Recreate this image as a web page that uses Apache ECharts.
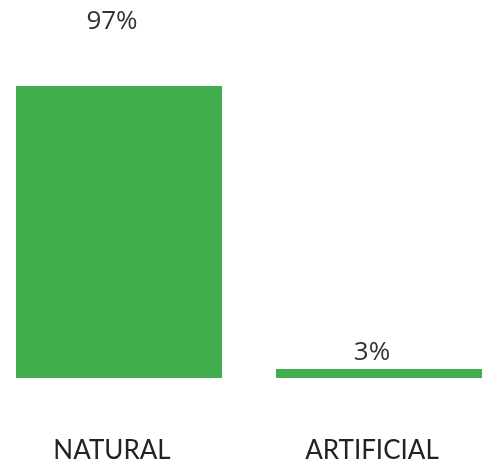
<!DOCTYPE html>
<html>
<head>
<meta charset="utf-8">
<script src="https://cdn.jsdelivr.net/npm/echarts@6/dist/echarts.min.js"></script>
<style>
  html, body { margin: 0; padding: 0; background: #fff; }
  #chart { width: 484px; height: 462px; }
</style>
</head>
<body>
<div id="chart"></div>
<script>
// data
const categories = ['NATURAL', 'ARTIFICIAL'];
const shares = [97, 3];
// how far each value label sits above its bar
const labelGaps = [51, 3];

const myChart = echarts.init(document.getElementById('chart'));

const option = {
  backgroundColor: '#ffffff',
  animation: false,
  grid: { left: -11, right: -25, top: 86, bottom: 84, outerBoundsMode: 'none', containLabel: false },
  xAxis: {
    type: 'category',
    data: categories,
    axisLine: { show: false },
    axisTick: { show: false },
    axisLabel: {
      margin: 60,
      color: '#222',
      fontFamily: 'Lato',
      fontSize: 26,
      padding: [0, 14, 0, 0]
    }
  },
  yAxis: {
    type: 'value',
    min: 0,
    max: 97,
    show: false
  },
  series: [{
    type: 'bar',
    barWidth: 206,
    itemStyle: { color: '#40ae4c' },
    data: shares.map((v, i) => ({
      value: v,
      label: {
        show: true,
        position: 'top',
        distance: labelGaps[i],
        offset: [-7, 0],
        formatter: '{c}%',
        color: '#333',
        fontFamily: 'Open Sans',
        fontSize: 26
      }
    }))
  }]
};
myChart.setOption(option);
</script>
</body>
</html>
